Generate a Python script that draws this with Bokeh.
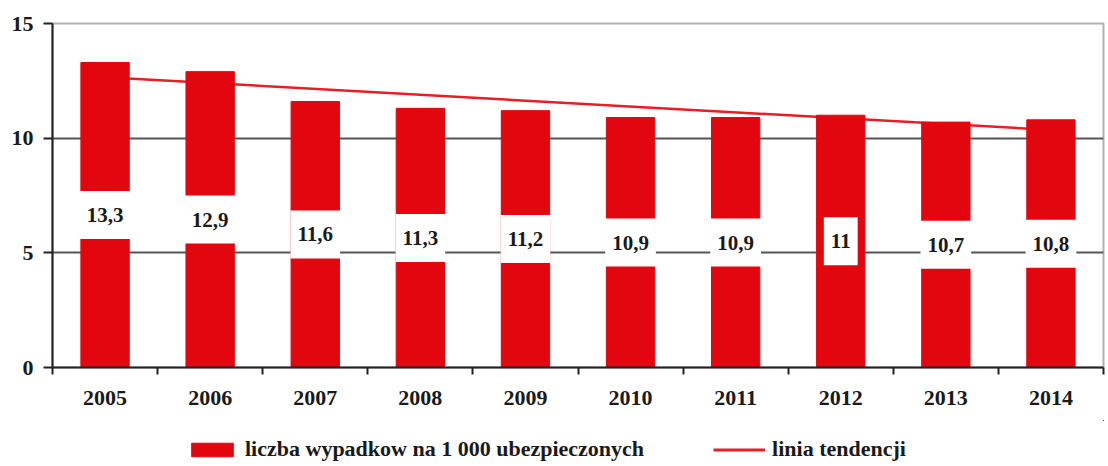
from bokeh.plotting import figure
from bokeh.layouts import column
from bokeh.models import (ColumnDataSource, FixedTicker, LinearAxis,
                          Legend, LegendItem, Range1d)
from bokeh.core.properties import value
from bokeh.embed import file_html
from bokeh.resources import INLINE

# ---- data ----
years = ["2005", "2006", "2007", "2008", "2009", "2010", "2011", "2012", "2013", "2014"]
rates = [13.3, 12.9, 11.6, 11.3, 11.2, 10.9, 10.9, 11.0, 10.7, 10.8]
rate_labels = ["13,3", "12,9", "11,6", "11,3", "11,2", "10,9", "10,9", "11", "10,7", "10,8"]
trend_values = [12.66, 10.36]          # trend line at first and last year
y_ticks = [0, 5, 10, 15]
series_name = "liczba wypadkow na 1 000 ubezpieczonych"
trend_name = "linia tendencji"

RED = "#E2070F"
TREND = "#EA1C24"
FONT = "Liberation Serif"

n = len(years)
pos = [i + 0.5 for i in range(n)]
src = ColumnDataSource(dict(x=pos, top=rates, mid=[r / 2 for r in rates], lab=rate_labels))
trend_src = ColumnDataSource(dict(x=[pos[0], pos[-1]], y=trend_values))

p = figure(width=1108, height=420, x_range=Range1d(0, n), y_range=Range1d(0, 15),
           output_backend="svg", toolbar_location=None, x_axis_type=None,
           min_border_left=52, min_border_right=5, min_border_top=23, min_border_bottom=53)
p.background_fill_color = "white"
p.border_fill_color = "white"
p.outline_line_color = "#b0b0b0"
p.outline_line_width = 2

# grid
p.xgrid.visible = False
p.ygrid.ticker = FixedTicker(ticks=[t for t in y_ticks if 0 < t < 15])
p.ygrid.grid_line_color = "#555555"
p.ygrid.grid_line_width = 2

# y axis
ya = p.yaxis[0]
ya.ticker = FixedTicker(ticks=y_ticks)
ya.axis_line_width = 2
ya.axis_line_color = "#222222"
ya.major_tick_line_width = 2
ya.major_tick_line_color = "#222222"
ya.major_tick_out = 9
ya.major_tick_in = 0
ya.minor_tick_line_color = None
ya.major_label_text_font = FONT
ya.major_label_text_font_style = "bold"
ya.major_label_text_font_size = "22px"
ya.major_label_text_color = "#1a1a1a"
ya.major_label_standoff = 10

# x axis: year labels at centres, minor ticks at category boundaries
xa = LinearAxis(ticker=FixedTicker(ticks=pos, minor_ticks=list(range(n + 1))),
                major_label_overrides={x: y for x, y in zip(pos, years)})
xa.axis_line_width = 2
xa.axis_line_color = "#222222"
xa.major_tick_line_color = None
xa.minor_tick_line_color = "#222222"
xa.minor_tick_line_width = 2
xa.minor_tick_out = 7
xa.minor_tick_in = 0
xa.major_label_text_font = FONT
xa.major_label_text_font_style = "bold"
xa.major_label_text_font_size = "22px"
xa.major_label_text_color = "#1a1a1a"
xa.major_label_standoff = 16
p.add_layout(xa, "below")

# trend line behind bars
trend = p.line("x", "y", source=trend_src, line_color=TREND, line_width=2.5)
bars = p.vbar(x="x", top="top", width=0.46, bottom=0, source=src,
              fill_color=RED, line_color=RED, line_width=1)

p.text(x="x", y="mid", text="lab", source=src, text_align="center",
       text_baseline="middle", text_font=value(FONT), text_font_style="bold",
       text_font_size="21px", text_color="#1a1a1a",
       background_fill_color="white", padding=(7, 17))

# ---- legend strip below the chart (same data, view scrolled away from it) ----
lg = figure(width=1108, height=46, x_range=Range1d(-20, -19), y_range=Range1d(-20, -19),
            output_backend="svg", toolbar_location=None,
            x_axis_type=None, y_axis_type=None,
            min_border_left=0, min_border_right=0, min_border_top=0, min_border_bottom=0)
lg.outline_line_color = None
lg.xgrid.visible = False
lg.ygrid.visible = False
lg_bar = lg.vbar(x="x", top="top", width=0.46, source=src, fill_color=RED, line_color=RED)
lg_line = lg.line("x", "y", source=trend_src, line_color=TREND, line_width=3)

legend = Legend(items=[LegendItem(label=series_name, renderers=[lg_bar]),
                       LegendItem(label=trend_name, renderers=[lg_line])],
                orientation="horizontal", location=(134, 4),
                border_line_color=None, background_fill_alpha=0,
                glyph_width=52, glyph_height=17, label_standoff=7, spacing=69,
                label_text_font=FONT, label_text_font_style="bold",
                label_text_font_size="22px", label_text_color="#1a1a1a",
                padding=0, margin=0)
lg.add_layout(legend)

layout = column(p, lg, spacing=0)
open("out.html", "w").write(file_html(layout, INLINE))
